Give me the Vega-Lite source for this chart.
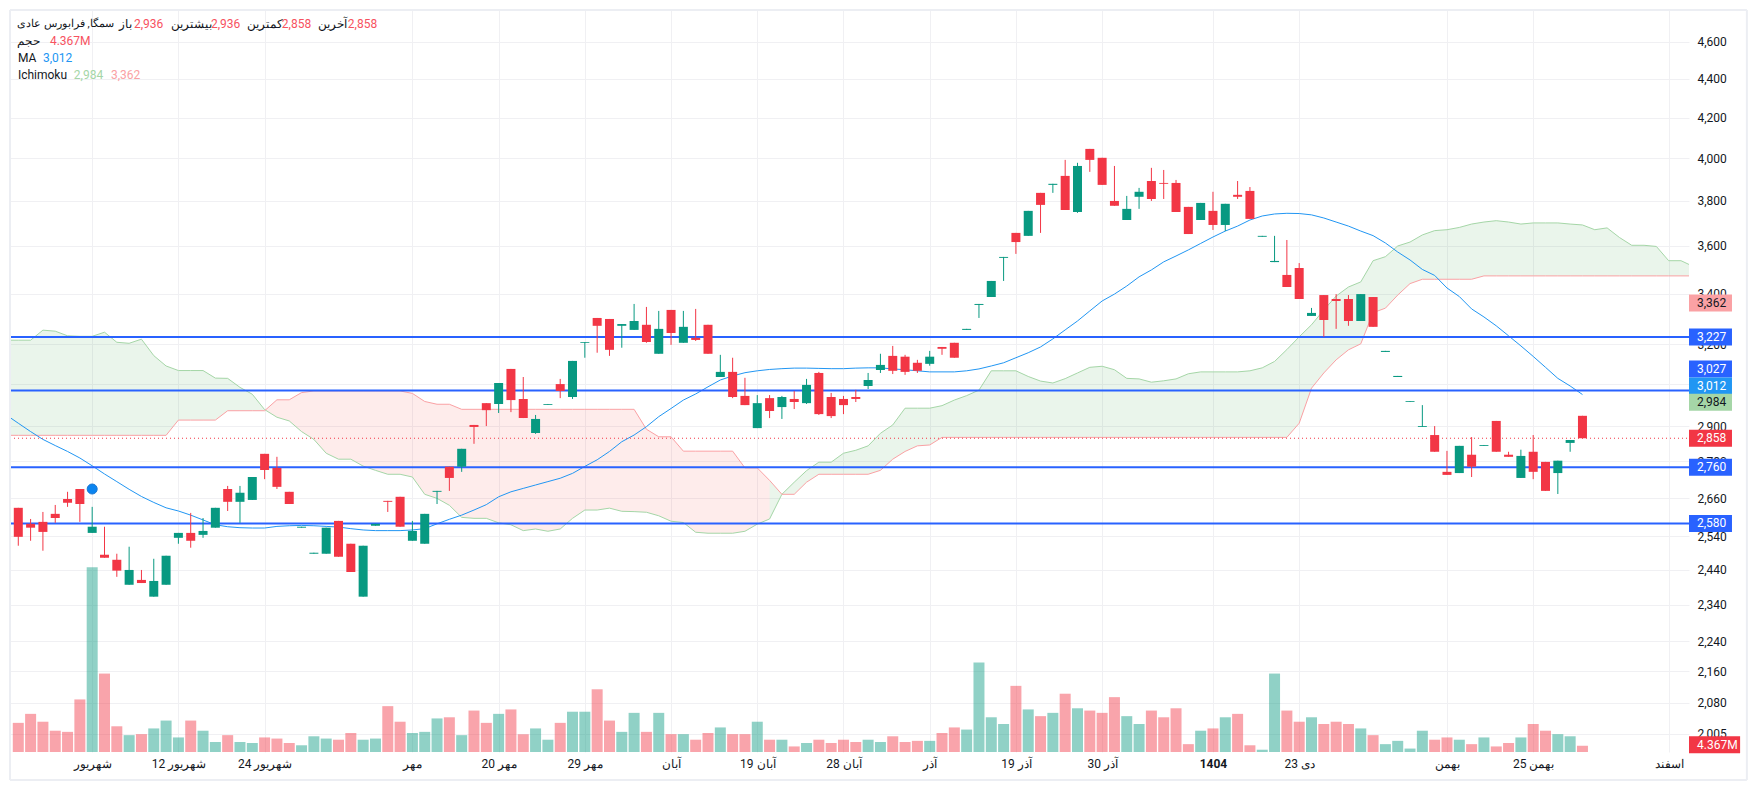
{
"$schema":"https://vega.github.io/schema/vega-lite/v6.json",
"description":"Candlestick chart with volume, moving average and Ichimoku cloud",
"autosize":{"type":"none"},
"padding":{"left":10,"top":10,"right":68,"bottom":38},
"width":1679,"height":742,
"background":"#ffffff",
"config":{"view":{"stroke":null},"font":"Roboto"},
"datasets":{
"candles":[
{"i":0,"o":2629,"h":2629,"l":2512,"c":2539,"v":20.4,"d":"down"},
{"i":1,"o":2579,"h":2594,"l":2527,"c":2567,"v":26.7,"d":"down"},
{"i":2,"o":2585,"h":2616,"l":2497,"c":2554,"v":21.2,"d":"down"},
{"i":3,"o":2610,"h":2638,"l":2582,"c":2597,"v":14.9,"d":"down"},
{"i":4,"o":2657,"h":2680,"l":2632,"c":2645,"v":14.1,"d":"down"},
{"i":5,"o":2689,"h":2689,"l":2585,"c":2641,"v":36.8,"d":"down"},
{"i":6,"o":2551,"h":2632,"l":2551,"c":2570,"v":129.4,"d":"up"},
{"i":7,"o":2485,"h":2570,"l":2476,"c":2476,"v":54.9,"d":"down"},
{"i":8,"o":2470,"h":2488,"l":2420,"c":2438,"v":18,"d":"down"},
{"i":9,"o":2397,"h":2509,"l":2397,"c":2440,"v":11.8,"d":"up"},
{"i":10,"o":2411,"h":2440,"l":2402,"c":2402,"v":12.5,"d":"down"},
{"i":11,"o":2363,"h":2473,"l":2363,"c":2408,"v":16.5,"d":"up"},
{"i":12,"o":2397,"h":2482,"l":2397,"c":2482,"v":22,"d":"up"},
{"i":13,"o":2536,"h":2551,"l":2518,"c":2551,"v":10.2,"d":"up"},
{"i":14,"o":2551,"h":2613,"l":2506,"c":2527,"v":22,"d":"down"},
{"i":15,"o":2545,"h":2597,"l":2536,"c":2557,"v":14.9,"d":"up"},
{"i":16,"o":2567,"h":2629,"l":2567,"c":2629,"v":7,"d":"up"},
{"i":17,"o":2689,"h":2699,"l":2619,"c":2648,"v":11.8,"d":"down"},
{"i":18,"o":2648,"h":2699,"l":2582,"c":2677,"v":7,"d":"up"},
{"i":19,"o":2654,"h":2728,"l":2654,"c":2728,"v":6.3,"d":"up"},
{"i":20,"o":2805,"h":2805,"l":2721,"c":2751,"v":10.2,"d":"down"},
{"i":21,"o":2758,"h":2795,"l":2689,"c":2696,"v":9.4,"d":"down"},
{"i":22,"o":2680,"h":2680,"l":2641,"c":2641,"v":6.3,"d":"down"},
{"i":23,"o":2567,"h":2570,"l":2567,"c":2570,"v":4.7,"d":"up"},
{"i":24,"o":2488,"h":2491,"l":2488,"c":2491,"v":11,"d":"up"},
{"i":25,"o":2488,"h":2567,"l":2488,"c":2567,"v":9.4,"d":"up"},
{"i":26,"o":2588,"h":2588,"l":2479,"c":2479,"v":8.6,"d":"down"},
{"i":27,"o":2518,"h":2518,"l":2434,"c":2434,"v":13.3,"d":"down"},
{"i":28,"o":2363,"h":2512,"l":2363,"c":2512,"v":8.6,"d":"up"},
{"i":29,"o":2573,"h":2579,"l":2573,"c":2579,"v":9.4,"d":"up"},
{"i":30,"o":2651,"h":2651,"l":2616,"c":2648,"v":32.1,"d":"down"},
{"i":31,"o":2664,"h":2664,"l":2570,"c":2570,"v":21.2,"d":"down"},
{"i":32,"o":2527,"h":2588,"l":2527,"c":2557,"v":13.3,"d":"up"},
{"i":33,"o":2518,"h":2610,"l":2518,"c":2610,"v":14.1,"d":"up"},
{"i":34,"o":2680,"h":2683,"l":2641,"c":2683,"v":23.5,"d":"up"},
{"i":35,"o":2762,"h":2762,"l":2683,"c":2725,"v":24.3,"d":"down"},
{"i":36,"o":2762,"h":2822,"l":2745,"c":2822,"v":11.8,"d":"up"},
{"i":37,"o":2904,"h":2904,"l":2839,"c":2897,"v":29,"d":"down"},
{"i":38,"o":2981,"h":2981,"l":2900,"c":2956,"v":20.4,"d":"down"},
{"i":39,"o":2978,"h":3054,"l":2946,"c":3054,"v":26.7,"d":"up"},
{"i":40,"o":3106,"h":3106,"l":2949,"c":2992,"v":29.8,"d":"down"},
{"i":41,"o":2996,"h":3076,"l":2928,"c":2928,"v":12.5,"d":"down"},
{"i":42,"o":2876,"h":2939,"l":2873,"c":2925,"v":16.5,"d":"up"},
{"i":43,"o":2975,"h":2978,"l":2975,"c":2978,"v":8.6,"d":"up"},
{"i":44,"o":3050,"h":3069,"l":2999,"c":3025,"v":20.4,"d":"down"},
{"i":45,"o":3003,"h":3136,"l":2996,"c":3136,"v":28.2,"d":"up"},
{"i":46,"o":3205,"h":3208,"l":3148,"c":3208,"v":28.2,"d":"up"},
{"i":47,"o":3302,"h":3302,"l":3167,"c":3271,"v":43.9,"d":"down"},
{"i":48,"o":3298,"h":3298,"l":3155,"c":3178,"v":22,"d":"down"},
{"i":49,"o":3271,"h":3278,"l":3186,"c":3278,"v":14.1,"d":"up"},
{"i":50,"o":3255,"h":3358,"l":3255,"c":3290,"v":27.4,"d":"up"},
{"i":51,"o":3275,"h":3346,"l":3205,"c":3208,"v":14.1,"d":"down"},
{"i":52,"o":3163,"h":3330,"l":3163,"c":3259,"v":27.4,"d":"up"},
{"i":53,"o":3334,"h":3334,"l":3197,"c":3243,"v":12.5,"d":"down"},
{"i":54,"o":3205,"h":3330,"l":3205,"c":3267,"v":12.5,"d":"up"},
{"i":55,"o":3224,"h":3338,"l":3212,"c":3216,"v":8.6,"d":"down"},
{"i":56,"o":3275,"h":3275,"l":3163,"c":3163,"v":13.3,"d":"down"},
{"i":57,"o":3076,"h":3159,"l":3076,"c":3095,"v":17.2,"d":"up"},
{"i":58,"o":3095,"h":3148,"l":2999,"c":3003,"v":12.5,"d":"down"},
{"i":59,"o":3007,"h":3073,"l":2974,"c":2974,"v":12.5,"d":"down"},
{"i":60,"o":2893,"h":3010,"l":2893,"c":2981,"v":21.2,"d":"up"},
{"i":61,"o":2999,"h":3010,"l":2928,"c":2953,"v":8.6,"d":"down"},
{"i":62,"o":2967,"h":3007,"l":2925,"c":3003,"v":8.6,"d":"up"},
{"i":63,"o":2996,"h":3025,"l":2960,"c":2985,"v":3.9,"d":"down"},
{"i":64,"o":2981,"h":3069,"l":2978,"c":3047,"v":6.3,"d":"up"},
{"i":65,"o":3091,"h":3095,"l":2939,"c":2942,"v":8.6,"d":"down"},
{"i":66,"o":3003,"h":3018,"l":2928,"c":2935,"v":6.3,"d":"down"},
{"i":67,"o":2996,"h":3007,"l":2942,"c":2974,"v":8.6,"d":"down"},
{"i":68,"o":3003,"h":3029,"l":2985,"c":2996,"v":7,"d":"down"},
{"i":69,"o":3043,"h":3091,"l":3032,"c":3065,"v":8.6,"d":"up"},
{"i":70,"o":3102,"h":3163,"l":3091,"c":3121,"v":7,"d":"up"},
{"i":71,"o":3155,"h":3193,"l":3087,"c":3099,"v":11,"d":"down"},
{"i":72,"o":3152,"h":3159,"l":3084,"c":3095,"v":7,"d":"down"},
{"i":73,"o":3129,"h":3140,"l":3091,"c":3099,"v":7.8,"d":"down"},
{"i":74,"o":3125,"h":3174,"l":3118,"c":3152,"v":7.8,"d":"up"},
{"i":75,"o":3189,"h":3189,"l":3159,"c":3182,"v":13.3,"d":"down"},
{"i":76,"o":3205,"h":3205,"l":3148,"c":3148,"v":17.2,"d":"down"},
{"i":77,"o":3255,"h":3259,"l":3255,"c":3259,"v":15.7,"d":"up"},
{"i":78,"o":3354,"h":3358,"l":3302,"c":3358,"v":62.7,"d":"up"},
{"i":79,"o":3386,"h":3452,"l":3386,"c":3452,"v":24.3,"d":"up"},
{"i":80,"o":3549,"h":3553,"l":3452,"c":3553,"v":19.6,"d":"up"},
{"i":81,"o":3657,"h":3657,"l":3566,"c":3617,"v":46.3,"d":"down"},
{"i":82,"o":3644,"h":3755,"l":3644,"c":3755,"v":29.8,"d":"up"},
{"i":83,"o":3837,"h":3837,"l":3657,"c":3782,"v":25.1,"d":"down"},
{"i":84,"o":3874,"h":3879,"l":3837,"c":3879,"v":27.4,"d":"up"},
{"i":85,"o":3916,"h":3992,"l":3759,"c":3759,"v":40.8,"d":"down"},
{"i":86,"o":3750,"h":3978,"l":3746,"c":3963,"v":30.6,"d":"up"},
{"i":87,"o":4045,"h":4045,"l":3935,"c":3992,"v":29,"d":"down"},
{"i":88,"o":4002,"h":4002,"l":3874,"c":3874,"v":27.4,"d":"down"},
{"i":89,"o":3800,"h":3963,"l":3778,"c":3778,"v":38.4,"d":"down"},
{"i":90,"o":3714,"h":3823,"l":3714,"c":3764,"v":25.1,"d":"up"},
{"i":91,"o":3819,"h":3860,"l":3764,"c":3842,"v":19.6,"d":"up"},
{"i":92,"o":3892,"h":3954,"l":3800,"c":3809,"v":29,"d":"down"},
{"i":93,"o":3883,"h":3944,"l":3809,"c":3879,"v":24.3,"d":"down"},
{"i":94,"o":3883,"h":3897,"l":3750,"c":3750,"v":30.6,"d":"down"},
{"i":95,"o":3773,"h":3773,"l":3652,"c":3652,"v":5.5,"d":"down"},
{"i":96,"o":3714,"h":3791,"l":3714,"c":3791,"v":14.9,"d":"up"},
{"i":97,"o":3755,"h":3842,"l":3670,"c":3692,"v":16.5,"d":"down"},
{"i":98,"o":3692,"h":3787,"l":3665,"c":3787,"v":24.3,"d":"up"},
{"i":99,"o":3828,"h":3892,"l":3809,"c":3819,"v":26.7,"d":"down"},
{"i":100,"o":3846,"h":3864,"l":3719,"c":3719,"v":4.7,"d":"down"},
{"i":101,"o":3640,"h":3644,"l":3640,"c":3644,"v":1.6,"d":"up"},
{"i":102,"o":3531,"h":3644,"l":3531,"c":3536,"v":54.9,"d":"up"},
{"i":103,"o":3477,"h":3626,"l":3427,"c":3427,"v":29,"d":"down"},
{"i":104,"o":3506,"h":3527,"l":3378,"c":3378,"v":21.2,"d":"down"},
{"i":105,"o":3310,"h":3342,"l":3310,"c":3322,"v":24.3,"d":"up"},
{"i":106,"o":3394,"h":3394,"l":3228,"c":3294,"v":19.6,"d":"down"},
{"i":107,"o":3378,"h":3398,"l":3259,"c":3370,"v":21.2,"d":"down"},
{"i":108,"o":3378,"h":3394,"l":3271,"c":3290,"v":19.6,"d":"down"},
{"i":109,"o":3290,"h":3398,"l":3290,"c":3398,"v":16.5,"d":"up"},
{"i":110,"o":3386,"h":3386,"l":3267,"c":3267,"v":11.8,"d":"down"},
{"i":111,"o":3170,"h":3174,"l":3170,"c":3174,"v":5.5,"d":"up"},
{"i":112,"o":3076,"h":3080,"l":3076,"c":3080,"v":7.8,"d":"up"},
{"i":113,"o":2985,"h":2988,"l":2985,"c":2988,"v":2.4,"d":"up"},
{"i":114,"o":2897,"h":2974,"l":2897,"c":2900,"v":14.9,"d":"up"},
{"i":115,"o":2869,"h":2900,"l":2812,"c":2812,"v":8.6,"d":"down"},
{"i":116,"o":2745,"h":2815,"l":2735,"c":2735,"v":10.2,"d":"down"},
{"i":117,"o":2741,"h":2832,"l":2741,"c":2832,"v":8.6,"d":"up"},
{"i":118,"o":2802,"h":2862,"l":2728,"c":2762,"v":5.5,"d":"down"},
{"i":119,"o":2832,"h":2835,"l":2832,"c":2835,"v":10.2,"d":"up"},
{"i":120,"o":2918,"h":2918,"l":2812,"c":2812,"v":3.9,"d":"down"},
{"i":121,"o":2802,"h":2812,"l":2795,"c":2795,"v":6.3,"d":"down"},
{"i":122,"o":2725,"h":2819,"l":2725,"c":2798,"v":10.2,"d":"up"},
{"i":123,"o":2812,"h":2869,"l":2721,"c":2745,"v":19.6,"d":"down"},
{"i":124,"o":2778,"h":2778,"l":2683,"c":2683,"v":14.9,"d":"down"},
{"i":125,"o":2741,"h":2782,"l":2673,"c":2782,"v":12.5,"d":"up"},
{"i":126,"o":2842,"h":2852,"l":2812,"c":2852,"v":11,"d":"up"},
{"i":127,"o":2936,"h":2936,"l":2858,"c":2858,"v":4.367,"d":"down"}
],
"overlay":[
{"i":-0.673,"a":3215,"b":2868,"m":2930},{"i":0,"a":3215,"b":2868,"m":2910},{"i":1,"a":3215,"b":2868,"m":2881},{"i":2,"a":3254,"b":2868,"m":2854},
{"i":3,"a":3250,"b":2868,"m":2833},{"i":4,"a":3232,"b":2868,"m":2813},{"i":5,"a":3230,"b":2868,"m":2791},{"i":6,"a":3230,"b":2868,"m":2765},
{"i":7,"a":3246,"b":2868,"m":2738},{"i":8,"a":3207,"b":2868,"m":2713},{"i":9,"a":3203,"b":2868,"m":2688},{"i":10,"a":3219,"b":2868,"m":2665},
{"i":11,"a":3156,"b":2868,"m":2646},{"i":12,"a":3117,"b":2868,"m":2629},{"i":13,"a":3100,"b":2921,"m":2619},{"i":14,"a":3100,"b":2921,"m":2606},
{"i":15,"a":3100,"b":2921,"m":2591},{"i":16,"a":3072,"b":2921,"m":2576},{"i":17,"a":3071,"b":2954,"m":2570},{"i":18,"a":3038,"b":2954,"m":2567},
{"i":19,"a":3013,"b":2954,"m":2566},{"i":20,"a":2958,"b":2954,"m":2566},{"i":21,"a":2931,"b":2993,"m":2571},{"i":22,"a":2918,"b":2993,"m":2573},
{"i":23,"a":2881,"b":3019,"m":2574},{"i":24,"a":2854,"b":3025,"m":2573},{"i":25,"a":2807,"b":3025,"m":2571},{"i":26,"a":2787,"b":3025,"m":2569},
{"i":27,"a":2787,"b":3025,"m":2564},{"i":28,"a":2764,"b":3025,"m":2560},{"i":29,"a":2750,"b":3025,"m":2558},{"i":30,"a":2737,"b":3025,"m":2558},
{"i":31,"a":2737,"b":3025,"m":2558},{"i":32,"a":2728,"b":3016,"m":2560},{"i":33,"a":2672,"b":2987,"m":2564},{"i":34,"a":2659,"b":2977,"m":2579},
{"i":35,"a":2637,"b":2977,"m":2593},{"i":36,"a":2599,"b":2959,"m":2606},{"i":37,"a":2596,"b":2959,"m":2622},{"i":38,"a":2596,"b":2959,"m":2639},
{"i":39,"a":2582,"b":2959,"m":2664},{"i":40,"a":2576,"b":2959,"m":2680},{"i":41,"a":2558,"b":2959,"m":2691},{"i":42,"a":2563,"b":2959,"m":2702},
{"i":43,"a":2556,"b":2959,"m":2713},{"i":44,"a":2563,"b":2959,"m":2724},{"i":45,"a":2596,"b":2959,"m":2740},{"i":46,"a":2622,"b":2959,"m":2763},
{"i":47,"a":2622,"b":2959,"m":2785},{"i":48,"a":2628,"b":2959,"m":2813},{"i":49,"a":2618,"b":2959,"m":2846},{"i":50,"a":2617,"b":2959,"m":2869},
{"i":51,"a":2615,"b":2889,"m":2898},{"i":52,"a":2604,"b":2863,"m":2933},{"i":53,"a":2587,"b":2863,"m":2962},{"i":54,"a":2583,"b":2814,"m":2992},
{"i":55,"a":2553,"b":2814,"m":3014},{"i":56,"a":2550,"b":2814,"m":3040},{"i":57,"a":2550,"b":2814,"m":3065},{"i":58,"a":2550,"b":2814,"m":3080},
{"i":59,"a":2556,"b":2758,"m":3092},{"i":60,"a":2578,"b":2758,"m":3099},{"i":61,"a":2594,"b":2717,"m":3104},{"i":62,"a":2672,"b":2672,"m":3107},
{"i":63,"a":2711,"b":2672,"m":3109},{"i":64,"a":2749,"b":2711,"m":3109},{"i":65,"a":2777,"b":2737,"m":3108},{"i":66,"a":2777,"b":2737,"m":3107},
{"i":67,"a":2807,"b":2737,"m":3107},{"i":68,"a":2817,"b":2737,"m":3109},{"i":69,"a":2832,"b":2737,"m":3110},{"i":70,"a":2875,"b":2750,"m":3110},
{"i":71,"a":2904,"b":2787,"m":3106},{"i":72,"a":2963,"b":2813,"m":3103},{"i":73,"a":2963,"b":2832,"m":3099},{"i":74,"a":2963,"b":2835,"m":3095},
{"i":75,"a":2972,"b":2861,"m":3095},{"i":76,"a":2992,"b":2861,"m":3095},{"i":77,"a":3008,"b":2861,"m":3099},{"i":78,"a":3028,"b":2861,"m":3106},
{"i":79,"a":3099,"b":2861,"m":3117},{"i":80,"a":3099,"b":2861,"m":3129},{"i":81,"a":3099,"b":2861,"m":3148},{"i":82,"a":3078,"b":2861,"m":3167},
{"i":83,"a":3061,"b":2861,"m":3189},{"i":84,"a":3054,"b":2861,"m":3220},{"i":85,"a":3070,"b":2861,"m":3255},{"i":86,"a":3091,"b":2861,"m":3290},
{"i":87,"a":3112,"b":2861,"m":3330},{"i":88,"a":3116,"b":2861,"m":3370},{"i":89,"a":3103,"b":2861,"m":3398},{"i":90,"a":3071,"b":2861,"m":3431},
{"i":91,"a":3069,"b":2861,"m":3469},{"i":92,"a":3057,"b":2861,"m":3498},{"i":93,"a":3062,"b":2861,"m":3532},{"i":94,"a":3069,"b":2861,"m":3557},
{"i":95,"a":3088,"b":2861,"m":3583},{"i":96,"a":3095,"b":2861,"m":3611},{"i":97,"a":3095,"b":2861,"m":3639},{"i":98,"a":3095,"b":2861,"m":3665},
{"i":99,"a":3095,"b":2861,"m":3687},{"i":100,"a":3099,"b":2861,"m":3714},{"i":101,"a":3110,"b":2861,"m":3732},{"i":102,"a":3134,"b":2861,"m":3741},
{"i":103,"a":3179,"b":2861,"m":3744},{"i":104,"a":3228,"b":2910,"m":3743},{"i":105,"a":3275,"b":3035,"m":3737},{"i":106,"a":3334,"b":3091,"m":3723},
{"i":107,"a":3390,"b":3140,"m":3705},{"i":108,"a":3427,"b":3178,"m":3687},{"i":109,"a":3448,"b":3201,"m":3665},{"i":110,"a":3537,"b":3323,"m":3645},
{"i":111,"a":3554,"b":3341,"m":3613},{"i":112,"a":3600,"b":3394,"m":3574},{"i":113,"a":3617,"b":3441,"m":3540},{"i":114,"a":3648,"b":3459,"m":3500},
{"i":115,"a":3667,"b":3459,"m":3475},{"i":116,"a":3671,"b":3459,"m":3423},{"i":117,"a":3681,"b":3459,"m":3388},{"i":118,"a":3696,"b":3459,"m":3338},
{"i":119,"a":3705,"b":3473,"m":3306},{"i":120,"a":3711,"b":3473,"m":3271},{"i":121,"a":3705,"b":3473,"m":3232},{"i":122,"a":3696,"b":3473,"m":3193},
{"i":123,"a":3701,"b":3473,"m":3153},{"i":124,"a":3701,"b":3473,"m":3112},{"i":125,"a":3701,"b":3473,"m":3071},{"i":126,"a":3696,"b":3473,"m":3043},
{"i":127,"a":3692,"b":3473,"m":3012},{"i":128,"a":3671,"b":3473},{"i":129,"a":3679,"b":3473},{"i":130,"a":3637,"b":3473},
{"i":131,"a":3603,"b":3473},{"i":132,"a":3603,"b":3473},{"i":133,"a":3598,"b":3473},{"i":134,"a":3537,"b":3473},
{"i":135,"a":3537,"b":3473},{"i":135.65,"a":3521,"b":3473}
],
"levels":[
{"i":-0.673,"i2":135.65,"p":3227},{"i":-0.673,"i2":135.65,"p":3027},{"i":-0.673,"i2":135.65,"p":2760},{"i":-0.673,"i2":135.65,"p":2580}
],
"tags":[
{"i":135.65,"i2":139.14,"p":3362,"label":"3,362","kind":"spanB","ink":"dark"},
{"i":135.65,"i2":139.14,"p":3227,"label":"3,227","kind":"level","ink":"white"},
{"i":135.65,"i2":139.14,"p":3106,"label":"3,027","kind":"level","ink":"white"},
{"i":135.65,"i2":139.14,"p":3043,"label":"3,012","kind":"ma","ink":"white"},
{"i":135.65,"i2":139.14,"p":2984,"label":"2,984","kind":"spanA","ink":"dark"},
{"i":135.65,"i2":139.14,"p":2858,"label":"2,858","kind":"last","ink":"white"},
{"i":135.65,"i2":139.14,"p":2760,"label":"2,760","kind":"level","ink":"white"},
{"i":135.65,"i2":139.14,"p":2580,"label":"2,580","kind":"level","ink":"white"},
{"i":135.65,"i2":139.8,"p":1978,"label":"4.367M","kind":"last","ink":"white"}
],
"legendText":[
{"i":8.17,"p":4699,"t":"باز","ink":"dark"},
{"i":9.39,"p":4699,"t":"2,936","ink":"red"},
{"i":12.39,"p":4699,"t":"بیشترین","ink":"dark"},
{"i":15.64,"p":4699,"t":"2,936","ink":"red"},
{"i":18.56,"p":4699,"t":"کمترین","ink":"dark"},
{"i":21.4,"p":4699,"t":"2,858","ink":"red"},
{"i":24.33,"p":4699,"t":"آخرین","ink":"dark"},
{"i":26.76,"p":4699,"t":"2,858","ink":"red"},
{"i":-0.11,"p":4605,"t":"حجم","ink":"dark"},
{"i":2.57,"p":4605,"t":"4.367M","ink":"red"},
{"i":-0.03,"p":4512,"t":"MA","ink":"dark"},
{"i":2,"p":4512,"t":"3,012","ink":"blue"},
{"i":-0.03,"p":4421,"t":"Ichimoku","ink":"dark"},
{"i":4.51,"p":4421,"t":"2,984","ink":"green"},
{"i":7.52,"p":4421,"t":"3,362","ink":"pink"}
]
},
"encoding":{
"x":{"field":"i","type":"quantitative","title":null,
"scale":{"domain":[-0.673,135.65],"nice":false,"zero":false,"padding":0},
"axis":{"values":[6,13,20,32,39,46,53,60,67,74,81,88,97,104,116,123,134],
"labelExpr":"{'6':'شهریور','13':'12 شهریور','20':'24 شهریور','32':'مهر','39':'20 مهر','46':'29 مهر','53':'آبان','60':'19 آبان','67':'28 آبان','74':'آذر','81':'19 آذر','88':'30 آذر','97':'1404','104':'23 دی','116':'بهمن','123':'25 بهمن','134':'اسفند'}[datum.value]",
"labelFontWeight":{"condition":{"test":"datum.value==97","value":"bold"},"value":"normal"},
"grid":true,"gridColor":"#f0f0f3","gridWidth":1,"domain":false,"ticks":false,"labelPadding":6,"labelFontSize":12,"labelFont":"Roboto","labelColor":"#131722","labelOverlap":false,"labelBound":false,"labelFlush":false}}
},
"resolve":{"scale":{"y":"independent"}},
"layer":[
{"data":{"name":"candles"},
"mark":{"type":"bar","size":11,"opacity":0.45},
"encoding":{
"y":{"field":"v","type":"quantitative","stack":null,"scale":{"domain":[0,519.4],"nice":false},"axis":null},
"color":{"field":"d","type":"nominal","scale":{"domain":["up","down"],"range":["#089981","#F23645"]},"legend":null}}},
{"data":{"name":"overlay"},"transform":[{"filter":"datum.i<=20"}],
"mark":{"type":"area","clip":true,"color":"#43A047","opacity":0.11},
"encoding":{"y":{"field":"a","type":"quantitative","title":null,"scale":{"type":"log","domain":[1961,4779],"nice":false},
"axis":{"orient":"right","values":[4600,4400,4200,4000,3800,3600,3400,3200,3050,2900,2780,2660,2540,2440,2340,2240,2160,2080,2005],"format":",d","grid":true,"gridColor":"#f0f0f3","gridWidth":1,"domain":false,"ticks":false,"labelPadding":8,"labelFontSize":12,"labelFont":"Roboto","labelColor":"#131722","labelOverlap":false,"labelBound":false,"labelFlush":false}},
"y2":{"field":"b"}}},
{"data":{"name":"overlay"},"transform":[{"filter":"datum.i>=20&&datum.i<=61"}],
"mark":{"type":"area","clip":true,"color":"#F44336","opacity":0.1},
"encoding":{"y":{"field":"a","type":"quantitative","scale":{"type":"log","domain":[1961,4779],"nice":false},"axis":null},"y2":{"field":"b"}}},
{"data":{"name":"overlay"},"transform":[{"filter":"datum.i>=61"}],
"mark":{"type":"area","clip":true,"color":"#43A047","opacity":0.11},
"encoding":{"y":{"field":"a","type":"quantitative","scale":{"type":"log","domain":[1961,4779],"nice":false},"axis":null},"y2":{"field":"b"}}},
{"data":{"name":"overlay"},
"mark":{"type":"line","clip":true,"color":"#A5D6A7","strokeWidth":1},
"encoding":{"y":{"field":"a","type":"quantitative","scale":{"type":"log","domain":[1961,4779],"nice":false},"axis":null}}},
{"data":{"name":"overlay"},
"mark":{"type":"line","clip":true,"color":"#FAA1A4","strokeWidth":1},
"encoding":{"y":{"field":"b","type":"quantitative","scale":{"type":"log","domain":[1961,4779],"nice":false},"axis":null}}},
{"data":{"name":"overlay"},"transform":[{"filter":"datum.i<=127"}],
"mark":{"type":"line","clip":true,"color":"#2196F3","strokeWidth":1},
"encoding":{"y":{"field":"m","type":"quantitative","scale":{"type":"log","domain":[1961,4779],"nice":false},"axis":null}}},
{"data":{"name":"levels"},
"mark":{"type":"rule","color":"#2962FF","strokeWidth":2},
"encoding":{"x2":{"field":"i2"},"y":{"field":"p","type":"quantitative","scale":{"type":"log","domain":[1961,4779],"nice":false},"axis":null}}},
{"data":{"values":[{"i":-0.673,"i2":135.65,"p":2858}]},
"mark":{"type":"rule","color":"#F23645","strokeWidth":1,"strokeDash":[1,3]},
"encoding":{"x2":{"field":"i2"},"y":{"field":"p","type":"quantitative","scale":{"type":"log","domain":[1961,4779],"nice":false},"axis":null}}},
{"data":{"name":"candles"},
"mark":{"type":"rule","strokeWidth":1},
"encoding":{"y":{"field":"h","type":"quantitative","scale":{"type":"log","domain":[1961,4779],"nice":false},"axis":null},"y2":{"field":"l"},
"color":{"field":"d","type":"nominal","scale":{"domain":["up","down"],"range":["#089981","#F23645"]},"legend":null}}},
{"data":{"name":"candles"},
"mark":{"type":"bar","size":9},
"encoding":{"y":{"field":"o","type":"quantitative","scale":{"type":"log","domain":[1961,4779],"nice":false},"axis":null},"y2":{"field":"c"},
"color":{"field":"d","type":"nominal","scale":{"domain":["up","down"],"range":["#089981","#F23645"]},"legend":null}}},
{"data":{"values":[{"i":6,"p":2689}]},
"mark":{"type":"point","filled":true,"size":100,"color":"#0A84F0","opacity":1,"stroke":"#1976D2","strokeWidth":1},
"encoding":{"y":{"field":"p","type":"quantitative","scale":{"type":"log","domain":[1961,4779],"nice":false},"axis":null}}},
{"data":{"values":[{"i":-0.673,"i2":140.35,"p":4779},{"i":-0.673,"i2":140.35,"p":1896}]},
"mark":{"type":"rule","color":"#eceef3","strokeWidth":2},
"encoding":{"x2":{"field":"i2"},"y":{"field":"p","type":"quantitative","scale":{"type":"log","domain":[1961,4779],"nice":false},"axis":null}}},
{"data":{"values":[{"i":-0.673,"p":4779,"p2":1896},{"i":140.35,"p":4779,"p2":1896}]},
"mark":{"type":"rule","color":"#eceef3","strokeWidth":2},
"encoding":{"y":{"field":"p","type":"quantitative","scale":{"type":"log","domain":[1961,4779],"nice":false},"axis":null},"y2":{"field":"p2"}}},
{"data":{"name":"tags"},
"mark":{"type":"rule","strokeWidth":17},
"encoding":{"x2":{"field":"i2"},"y":{"field":"p","type":"quantitative","scale":{"type":"log","domain":[1961,4779],"nice":false},"axis":null},
"stroke":{"field":"kind","type":"nominal","scale":{"domain":["spanB","level","ma","spanA","last"],"range":["#FAA1A4","#2962FF","#2196F3","#A5D6A7","#F23645"]},"legend":null}}},
{"data":{"name":"tags"},
"mark":{"type":"text","align":"left","baseline":"middle","dx":8,"fontSize":12,"font":"Roboto"},
"encoding":{"y":{"field":"p","type":"quantitative","scale":{"type":"log","domain":[1961,4779],"nice":false},"axis":null},
"text":{"field":"label"},
"fill":{"field":"ink","type":"nominal","scale":{"domain":["dark","white","red","blue","green","pink"],"range":["#131722","#ffffff","#F7525F","#2196F3","#A5D6A7","#FAA1A4"]},"legend":null}}},
{"data":{"name":"legendText"},
"mark":{"type":"text","align":"left","baseline":"middle","fontSize":12,"font":"Roboto"},
"encoding":{"y":{"field":"p","type":"quantitative","scale":{"type":"log","domain":[1961,4779],"nice":false},"axis":null},
"text":{"field":"t"},
"fill":{"field":"ink","type":"nominal","scale":{"domain":["dark","white","red","blue","green","pink"],"range":["#131722","#ffffff","#F7525F","#2196F3","#A5D6A7","#FAA1A4"]},"legend":null}}},
{"data":{"values":[{"i":-0.11,"p":4699,"t":"سمگا, فرابورس عادی"}]},
"mark":{"type":"text","align":"left","baseline":"middle","fontSize":11,"font":"Roboto","color":"#131722"},
"encoding":{"y":{"field":"p","type":"quantitative","scale":{"type":"log","domain":[1961,4779],"nice":false},"axis":null},
"text":{"field":"t"}}}
]
}
